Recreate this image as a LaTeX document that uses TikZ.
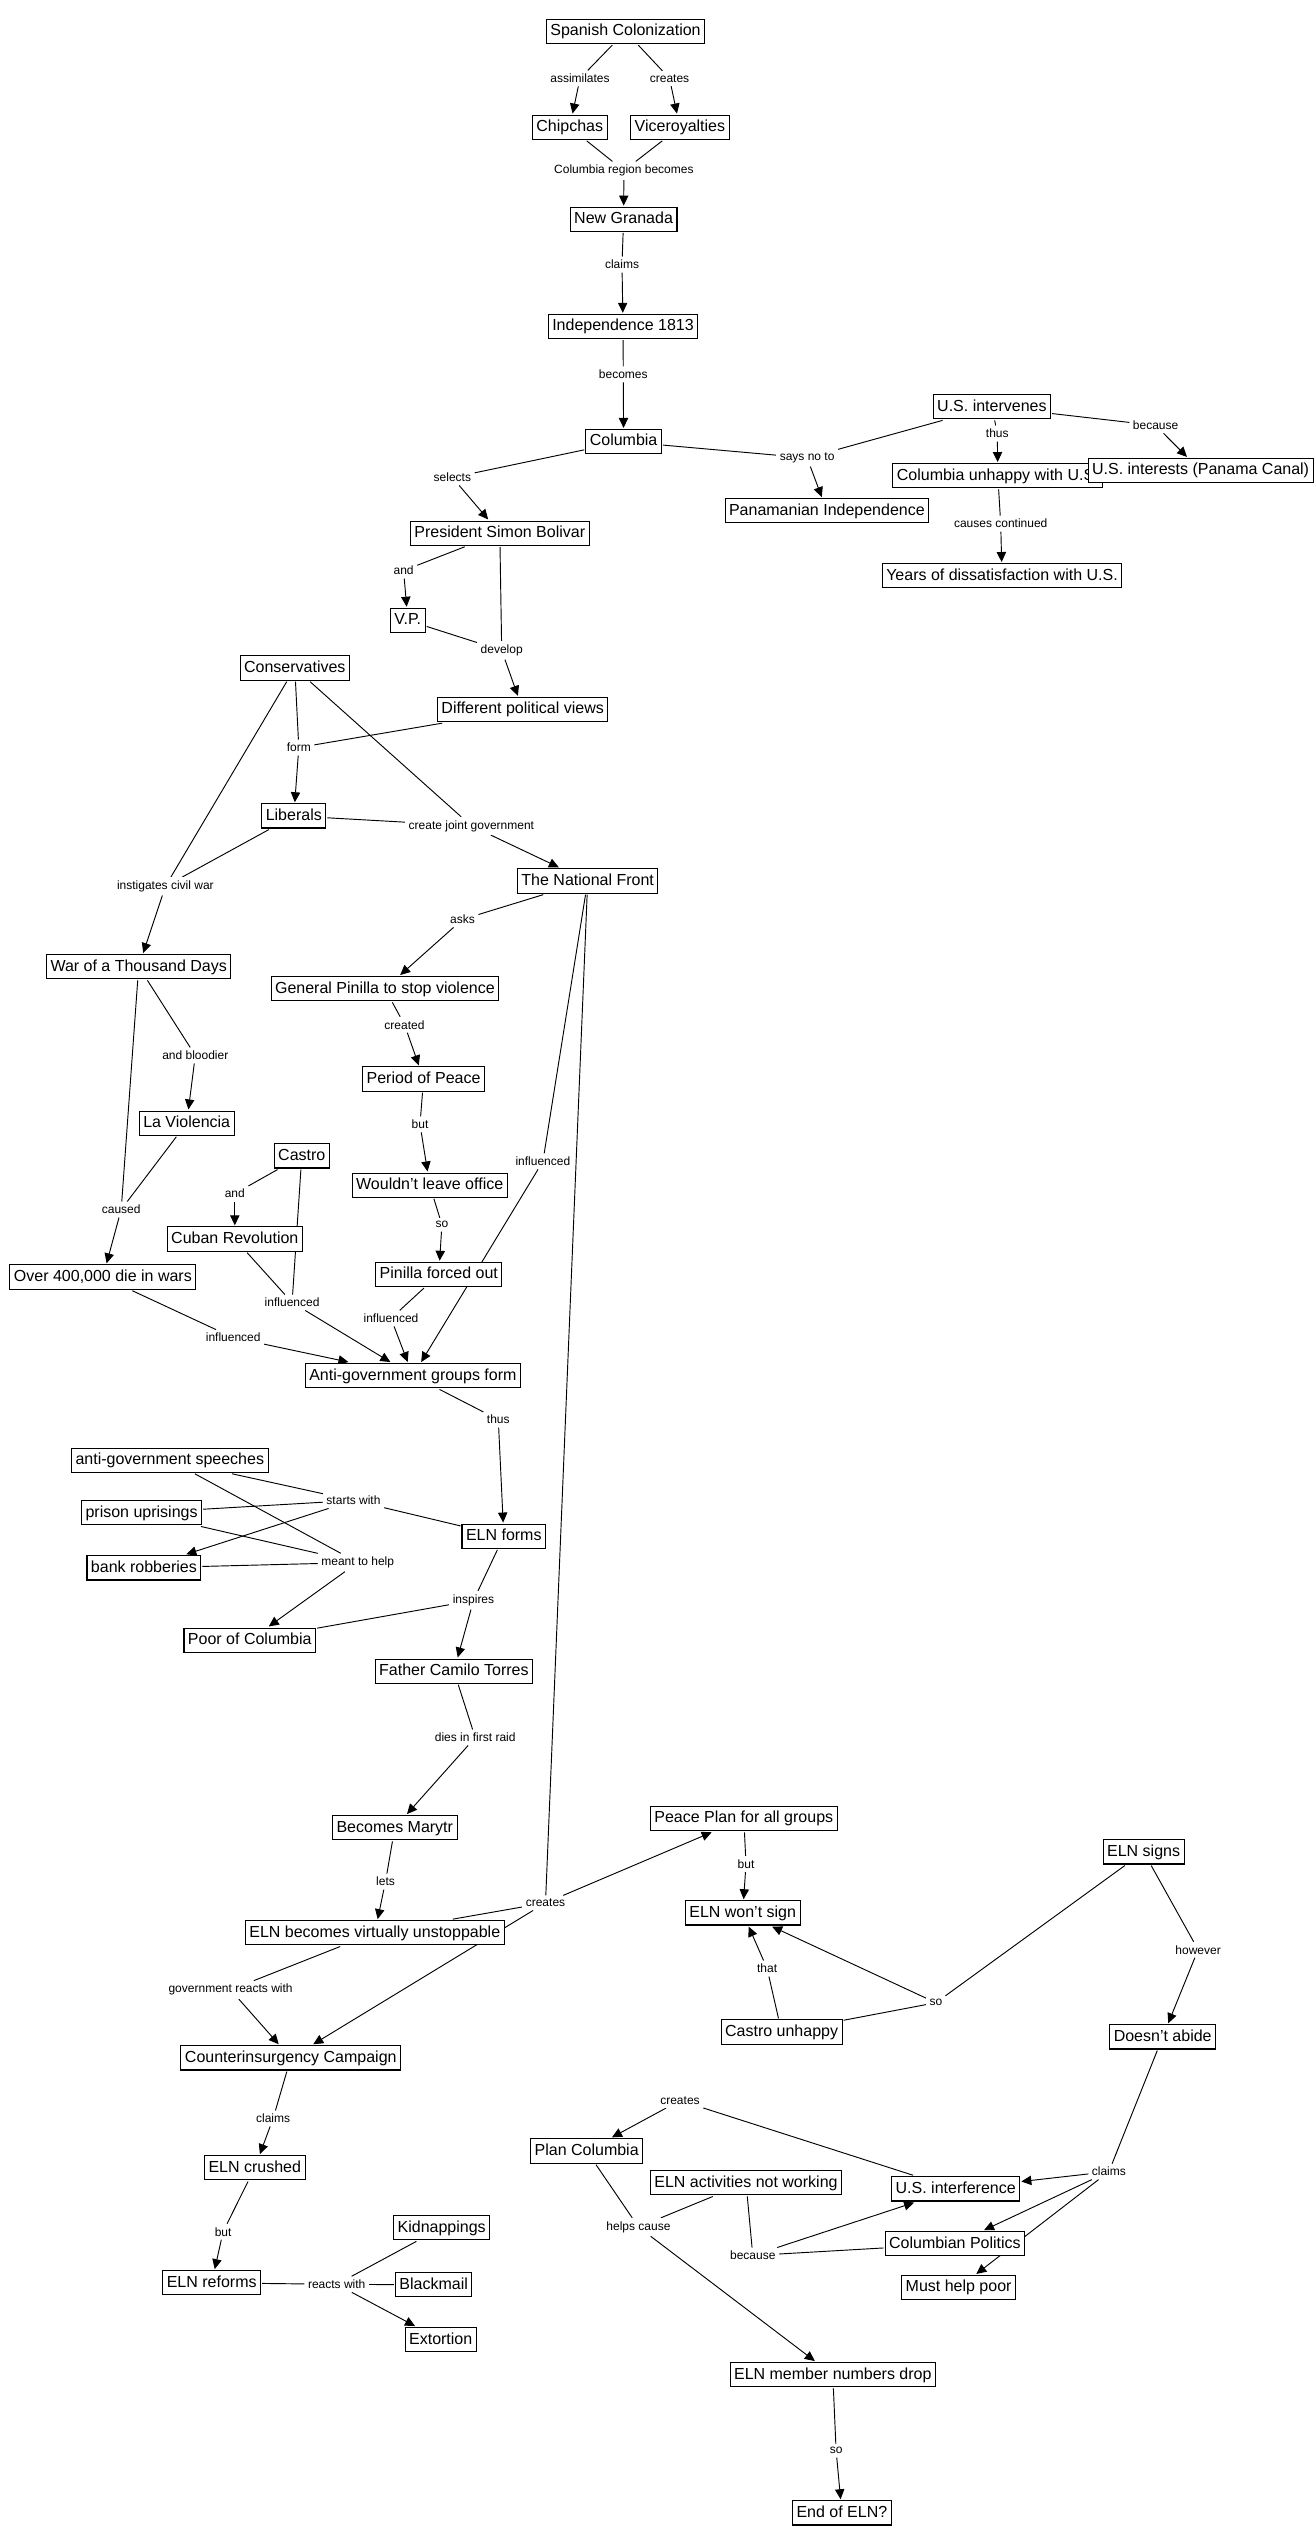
\documentclass[tikz,border=0pt]{standalone}
\usepackage{fontspec}
\setmainfont{Liberation Sans}
\usepackage{tikz}
\usetikzlibrary{arrows.meta,backgrounds}

\begin{document}
\begin{tikzpicture}[x=0.75pt, y=-0.75pt, >={Triangle[length=7.5pt,width=7pt]},
    concept/.style={draw, line width=0.8pt, fill=white, font=\fontsize{12}{14}\selectfont,
      inner xsep=3pt, inner ysep=3.3pt, text height=9pt, text depth=2.5pt, outer sep=1.2pt},
    phrase/.style={fill=white, font=\fontsize{9}{11}\selectfont, inner sep=2.5pt},
    conn/.style={line width=0.7pt},
    arr/.style={conn, ->}]
  \useasboundingbox (0,0) rectangle (1316,2545);

  \node[concept] (spain) at (625.5,31.5) {Spanish Colonization};
  \node[concept] (chip) at (569.7,127.2) {Chipchas};
  \node[concept] (vice) at (679.9,127.2) {Viceroyalties};
  \node[concept] (newgr) at (623.6,219.2) {New Granada};
  \node[concept] (indep) at (623,326.5) {Independence 1813};
  \node[concept] (col) at (623.6,441.6) {Columbia};
  \node[concept] (usint) at (991.9,406.7) {U.S. intervenes};
  \node[concept] (unhappy) at (997.8,475.7) {Columbia unhappy with U.S.};
  \node[concept] (usinterests) at (1200.6,470.6) {U.S. interests (Panama Canal)};
  \node[concept] (panama) at (826.9,510.8) {Panamanian Independence};
  \node[concept] (years) at (1002,575.7) {Years of dissatisfaction with U.S.};
  \node[concept] (bolivar) at (499.8,533.1) {President Simon Bolivar};
  \node[concept] (vp) at (407.8,620.4) {V.P.};
  \node[concept] (views) at (522.7,709.5) {Different political views};
  \node[concept] (cons) at (294.8,668) {Conservatives};
  \node[concept] (lib) at (293.8,815.9) {Liberals};
  \node[concept] (front) at (587.7,881) {The National Front};
  \node[concept] (war) at (138.7,966.7) {War of a Thousand Days};
  \node[concept] (pinilla) at (384.9,988.7) {General Pinilla to stop violence};
  \node[concept] (peace) at (423.6,1079) {Period of Peace};
  \node[concept] (viol) at (186.7,1123.1) {La Violencia};
  \node[concept] (castro) at (301.8,1155.9) {Castro};
  \node[concept] (office) at (429.7,1185.1) {Wouldn't leave office};
  \node[concept] (cuban) at (234.8,1239) {Cuban Revolution};
  \node[concept] (dead) at (102.9,1277) {Over 400,000 die in wars};
  \node[concept] (forced) at (438.8,1274.4) {Pinilla forced out};
  \node[concept] (antigov) at (412.9,1375.7) {Anti-government groups form};
  \node[concept] (speech) at (169.8,1460.1) {anti-government speeches};
  \node[concept] (prison) at (141.6,1512.8) {prison uprisings};
  \node[concept] (elnforms) at (503.8,1536.2) {ELN forms};
  \node[concept] (bank) at (143.9,1567.9) {bank robberies};
  \node[concept] (poor) at (249.8,1640.1) {Poor of Columbia};
  \node[concept] (torres) at (453.9,1671.1) {Father Camilo Torres};
  \node[concept] (martyr) at (394.8,1827.7) {Becomes Marytr};
  \node[concept] (plan) at (743.8,1818.6) {Peace Plan for all groups};
  \node[concept] (signs) at (1143.6,1851.9) {ELN signs};
  \node[concept] (unstop) at (374.8,1932.8) {ELN becomes virtually unstoppable};
  \node[concept] (wont) at (742.7,1912.9) {ELN won't sign};
  \node[concept] (cunhappy) at (781.6,2032) {Castro unhappy};
  \node[concept] (abide) at (1162.7,2036.9) {Doesn't abide};
  \node[concept] (counter) at (290.8,2057.9) {Counterinsurgency Campaign};
  \node[concept] (pcol) at (586.7,2151) {Plan Columbia};
  \node[concept] (crushed) at (254.8,2167.8) {ELN crushed};
  \node[concept] (notwork) at (746,2182.8) {ELN activities not working};
  \node[concept] (usinterf) at (955.7,2188.9) {U.S. interference};
  \node[concept] (kidnap) at (441.7,2227.7) {Kidnappings};
  \node[concept] (cpol) at (954.9,2243.8) {Columbian Politics};
  \node[concept] (reforms) at (211.7,2282.8) {ELN reforms};
  \node[concept] (blackmail) at (433.7,2284.8) {Blackmail};
  \node[concept] (mustpoor) at (958.6,2287.6) {Must help poor};
  \node[concept] (extort) at (440.7,2339.7) {Extortion};
  \node[concept] (drop) at (832.8,2374.7) {ELN member numbers drop};
  \node[concept] (endeln) at (841.9,2512.9) {End of ELN?};

  \node[phrase] (assim) at (580,78.4) {assimilates};
  \node[phrase] (creates1) at (669.5,78.4) {creates};
  \node[phrase] (becomes1) at (623.9,170.6) {Columbia region becomes};
  \node[phrase] (claims1) at (622,264.5) {claims};
  \node[phrase] (becomes2) at (623.3,374.3) {becomes};
  \node[phrase] (selects) at (452.4,477.5) {selects};
  \node[phrase] (saysno) at (807.1,457.9) {says no to};
  \node[phrase] (thus1) at (997.3,433.5) {thus};
  \node[phrase] (because1) at (1155.6,425.4) {because};
  \node[phrase] (causes) at (1000.7,523.7) {causes continued};
  \node[phrase] (and1) at (403.6,570.6) {and};
  \node[phrase] (develop) at (501.7,650.4) {develop};
  \node[phrase] (form) at (298.8,747.5) {form};
  \node[phrase] (joint) at (471.4,825.9) {create joint government};
  \node[phrase] (civil) at (165.4,886.3) {instigates civil war};
  \node[phrase] (asks) at (462.5,919.4) {asks};
  \node[phrase] (created) at (404.5,1024.7) {created};
  \node[phrase] (bloodier) at (195.3,1055.4) {and bloodier};
  \node[phrase] (but1) at (420,1124.3) {but};
  \node[phrase] (infl1) at (542.9,1161.4) {influenced};
  \node[phrase] (and2) at (234.8,1193.6) {and};
  \node[phrase] (caused) at (121.2,1209.5) {caused};
  \node[phrase] (so1) at (441.9,1224.7) {so};
  \node[phrase] (infl2) at (292.1,1302.5) {influenced};
  \node[phrase] (infl3) at (391,1318.4) {influenced};
  \node[phrase] (infl4) at (233.2,1337.6) {influenced};
  \node[phrase] (thus2) at (498.3,1419.6) {thus};
  \node[phrase] (starts) at (353.5,1500.4) {starts with};
  \node[phrase] (meant) at (357.7,1562.5) {meant to help};
  \node[phrase] (inspires) at (473.5,1600.4) {inspires};
  \node[phrase] (dies) at (475.2,1737.5) {dies in first raid};
  \node[phrase] (lets) at (385.5,1881.6) {lets};
  \node[phrase] (but2) at (746,1864.1) {but};
  \node[phrase] (creates2) at (545.5,1902.9) {creates};
  \node[phrase] (however) at (1198.1,1949.7) {however};
  \node[phrase] (that) at (767.1,1968.5) {that};
  \node[phrase] (reacts1) at (230.6,1989.8) {government reacts with};
  \node[phrase] (so2) at (935.9,2002.7) {so};
  \node[phrase] (creates3) at (680,2100.5) {creates};
  \node[phrase] (claims2) at (273.1,2118.5) {claims};
  \node[phrase] (claims3) at (1108.9,2171.6) {claims};
  \node[phrase] (helps) at (638.5,2227) {helps cause};
  \node[phrase] (but3) at (223.1,2231.7) {but};
  \node[phrase] (because2) at (752.8,2255.5) {because};
  \node[phrase] (reacts2) at (336.7,2284.3) {reacts with};
  \node[phrase] (so3) at (836.1,2450.6) {so};

  \begin{pgfonlayer}{background}
    \draw[conn] (spain) -- (assim);   \draw[arr] (assim) -- (chip);
    \draw[conn] (spain) -- (creates1); \draw[arr] (creates1) -- (vice);
    \draw[conn] (chip) -- (becomes1); \draw[conn] (vice) -- (becomes1);
    \draw[arr] (becomes1) -- (newgr);
    \draw[conn] (newgr) -- (claims1); \draw[arr] (claims1) -- (indep);
    \draw[conn] (indep) -- (becomes2); \draw[arr] (becomes2) -- (col);
    \draw[conn] (col) -- (selects);   \draw[arr] (selects) -- (bolivar);
    \draw[conn] (col) -- (saysno);    \draw[conn] (usint) -- (saysno);
    \draw[arr] (saysno) -- (panama);
    \draw[conn] (usint) -- (thus1);   \draw[arr] (thus1) -- (unhappy);
    \draw[conn] (usint) -- (because1); \draw[arr] (because1) -- (usinterests);
    \draw[conn] (unhappy) -- (causes); \draw[arr] (causes) -- (years);
    \draw[conn] (bolivar) -- (and1);  \draw[arr] (and1) -- (vp);
    \draw[conn] (vp) -- (develop);    \draw[conn] (bolivar) -- (develop);
    \draw[arr] (develop) -- (views);
    \draw[conn] (views) -- (form);    \draw[conn] (cons) -- (form);
    \draw[arr] (form) -- (lib);
    \draw[conn] (cons) -- (joint);    \draw[conn] (lib) -- (joint);
    \draw[arr] (joint) -- (front);
    \draw[conn] (cons) -- (civil);    \draw[conn] (lib) -- (civil);
    \draw[arr] (civil) -- (war);
    \draw[conn] (front) -- (asks);    \draw[arr] (asks) -- (pinilla);
    \draw[conn] (pinilla) -- (created); \draw[arr] (created) -- (peace);
    \draw[conn] (peace) -- (but1);    \draw[arr] (but1) -- (office);
    \draw[conn] (office) -- (so1);    \draw[arr] (so1) -- (forced);
    \draw[conn] (war) -- (bloodier);  \draw[arr] (bloodier) -- (viol);
    \draw[conn] (war) -- (caused);    \draw[conn] (viol) -- (caused);
    \draw[arr] (caused) -- (dead);
    \draw[conn] (castro) -- (and2);   \draw[arr] (and2) -- (cuban);
    \draw[conn] (front) -- (infl1);   \draw[arr] (infl1) -- (antigov);
    \draw[conn] (cuban) -- (infl2);   \draw[conn] (castro) -- (infl2);
    \draw[arr] (infl2) -- (antigov);
    \draw[conn] (forced) -- (infl3);  \draw[arr] (infl3) -- (antigov);
    \draw[conn] (dead) -- (infl4);    \draw[arr] (infl4) -- (antigov);
    \draw[conn] (antigov) -- (thus2); \draw[arr] (thus2) -- (elnforms);
    \draw[conn] (speech) -- (starts); \draw[conn] (prison) -- (starts);
    \draw[conn] (elnforms) -- (starts); \draw[arr] (starts) -- (bank);
    \draw[conn] (speech) -- (meant);  \draw[conn] (prison) -- (meant);
    \draw[conn] (bank) -- (meant);    \draw[arr] (meant) -- (poor);
    \draw[conn] (elnforms) -- (inspires); \draw[conn] (poor) -- (inspires);
    \draw[arr] (inspires) -- (torres);
    \draw[conn] (torres) -- (dies);   \draw[arr] (dies) -- (martyr);
    \draw[conn] (martyr) -- (lets);   \draw[arr] (lets) -- (unstop);
    \draw[conn] (front) -- (creates2); \draw[conn] (unstop) -- (creates2);
    \draw[arr] (creates2) -- (plan);  \draw[arr] (creates2) -- (counter);
    \draw[conn] (unstop) -- (reacts1); \draw[arr] (reacts1) -- (counter);
    \draw[conn] (plan) -- (but2);     \draw[arr] (but2) -- (wont);
    \draw[conn] (cunhappy) -- (that); \draw[arr] (that) -- (wont);
    \draw[conn] (signs) -- (so2);     \draw[conn] (cunhappy) -- (so2);
    \draw[arr] (so2) -- (wont);
    \draw[conn] (signs) -- (however); \draw[arr] (however) -- (abide);
    \draw[conn] (abide) -- (claims3);
    \draw[arr] (claims3) -- (usinterf); \draw[arr] (claims3) -- (cpol);
    \draw[arr] (claims3) -- (mustpoor);
    \draw[conn] (usinterf) -- (creates3); \draw[arr] (creates3) -- (pcol);
    \draw[conn] (pcol) -- (helps);    \draw[conn] (notwork) -- (helps);
    \draw[arr] (helps) -- (drop);
    \draw[conn] (notwork) -- (because2); \draw[conn] (cpol) -- (because2);
    \draw[arr] (because2) -- (usinterf);
    \draw[conn] (counter) -- (claims2); \draw[arr] (claims2) -- (crushed);
    \draw[conn] (crushed) -- (but3);  \draw[arr] (but3) -- (reforms);
    \draw[conn] (reforms) -- (reacts2); \draw[conn] (reacts2) -- (kidnap);
    \draw[conn] (reacts2) -- (blackmail); \draw[arr] (reacts2) -- (extort);
    \draw[conn] (drop) -- (so3);      \draw[arr] (so3) -- (endeln);
  \end{pgfonlayer}
\end{tikzpicture}
\end{document}
